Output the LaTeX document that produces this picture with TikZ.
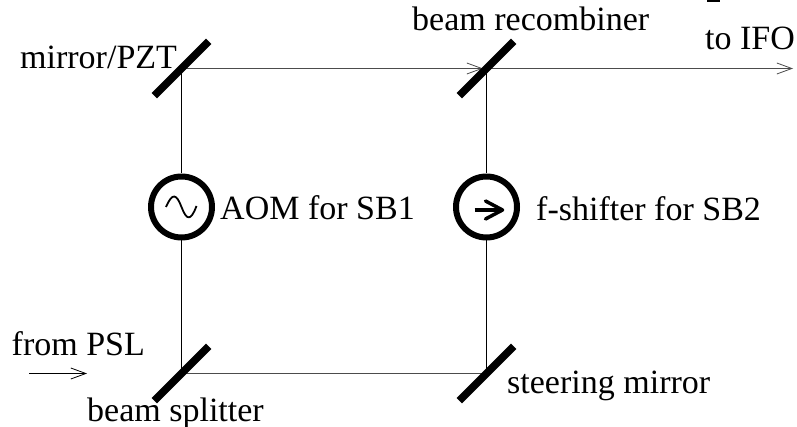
\documentclass[tikz,border=0pt]{standalone}
\usepackage{fontspec}
\setmainfont{Liberation Serif}
\usetikzlibrary{arrows.meta}
\tikzset{
  beam/.style = {black!70, line width=1pt},
  riser/.style = {black, line width=0.9pt},
  barb/.style = {-{Straight Barb[length=15pt,width=11pt,line width=0.8pt]}},
  mirror/.style = {fill=black, inner sep=0pt, minimum width=77pt, minimum height=7.5pt, rotate=45},
  modulator/.style = {draw, circle, line width=6pt, inner sep=0pt, minimum size=61pt},
  label/.style = {anchor=base west, inner sep=0pt, font=\fontsize{34}{40}\selectfont}
}
\begin{document}
\begin{tikzpicture}[line cap=butt,line join=round,x=1pt,y=-1pt]
\useasboundingbox (0,0) rectangle (797,427);
\coordinate (pzt) at (181.5,68.5);
\coordinate (recomb) at (486.5,68.5);
\coordinate (split) at (181.5,373.5);
\coordinate (steer) at (486.5,373.5);
\coordinate (ifo) at (793,68.5);
\coordinate (psl) at (29,373.5);
\coordinate (pslend) at (87,373.5);
\coordinate (recombend) at (483,68.5);
% phase modulators
\node [modulator] (aom) at (181.5,207) {};
\node [modulator] (shifter) at (486.5,207) {};
% beams
\draw [beam] (split)--(steer);
\draw [beam,barb] (pzt)--(recombend);
\draw [beam,barb] (recomb)--(ifo);
\draw [riser] (pzt)--(aom);
\draw [riser] (aom)--(split);
\draw [riser] (recomb)--(shifter);
\draw [riser] (shifter)--(steer);
\draw [black,line width=1.7pt,barb] (psl)--(pslend);
% mirrors
\node [mirror] (pztm) at (pzt) {};
\node [mirror] (recombm) at (recomb) {};
\node [mirror] (splitm) at (split) {};
\node [mirror] (steerm) at (steer) {};
% symbols in the circles
\draw [line width=1.8pt] ([shift={(-15.5,0)}]aom.center) .. controls ([shift={(-9,-15)}]aom.center) and ([shift={(-5,-13)}]aom.center) .. (aom.center) .. controls ([shift={(5,13)}]aom.center) and ([shift={(9,15)}]aom.center) .. ([shift={(15,-1)}]aom.center);
\draw [line width=3.5pt] ([shift={(-12,3)}]shifter.center)--([shift={(16,3)}]shifter.center);
\draw [line width=3.5pt,line cap=round] ([shift={(-1,-6)}]shifter.center)--([shift={(16,3)}]shifter.center)--([shift={(-1,12)}]shifter.center);
% clipped mark on the top edge
\fill (707,0) rectangle (719.5,2.5);
% labels
\node [label] (pztl) at (20,69) {mirror/PZT};
\node [label] (recombl) at (412,31) {beam recombiner};
\node [label] (ifol) at (705,50) {to IFO};
\node [label] (aoml) at (220,220) {AOM for SB1};
\node [label] (shifterl) at (536,221) {f-shifter for SB2};
\node [label] (psll) at (11.5,355) {from PSL};
\node [label] (splitl) at (87,421) {beam splitter};
\node [label] (steerl) at (507,393) {steering mirror};
\end{tikzpicture}
\end{document}
